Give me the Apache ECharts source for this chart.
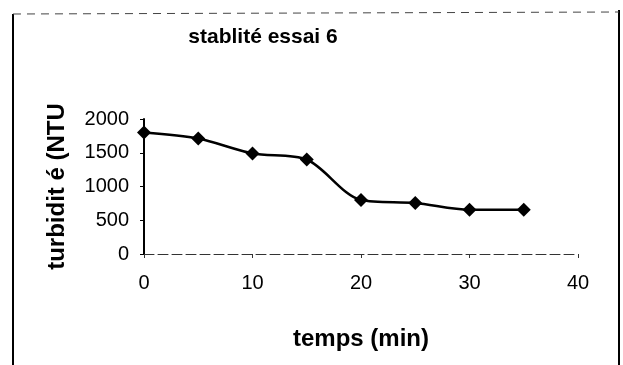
<!DOCTYPE html>
<html>
<head>
<meta charset="utf-8">
<script src="https://cdn.jsdelivr.net/npm/echarts@6/dist/echarts.min.js"></script>
<style>html,body{margin:0;padding:0;background:#fff;}#c{width:623px;height:365px;}</style>
</head>
<body>
<div id="c"></div>
<script>
var titleText = 'stablité essai 6';
var xName = 'temps (min)';
var yName = 'turbidit é (NTU';
var times = [0, 5, 10, 15, 20, 25, 30, 35];
var turbidity = [1800, 1710, 1490, 1400, 800, 755, 655, 655];

var chart = echarts.init(document.getElementById('c'));
var font = 'Liberation Sans, Arial, sans-serif';
chart.setOption({
  backgroundColor: '#fff',
  animation: false,
  title: {
    text: titleText, left: 258, top: 22, textAlign: 'center',
    textStyle: {fontFamily: font, fontSize: 21, fontWeight: 'bold', color: '#000'}
  },
  graphic: [
    {type: 'line', shape: {x1: 13, y1: 14, x2: 13, y2: 365}, style: {stroke: '#000', lineWidth: 2}},
    {type: 'line', shape: {x1: 619, y1: 10, x2: 619, y2: 365}, style: {stroke: '#000', lineWidth: 2}},
    {type: 'line', shape: {x1: 13, y1: 14, x2: 619, y2: 12}, style: {stroke: '#444', lineWidth: 1, lineDash: [8, 6]}}
  ],
  grid: {left: 144, right: 45, top: 119, bottom: 111},
  xAxis: {
    type: 'value', min: 0, max: 40, interval: 10,
    name: xName, nameLocation: 'middle', nameGap: 73,
    nameTextStyle: {fontFamily: font, fontSize: 24, fontWeight: 'bold', color: '#000'},
    axisLine: {lineStyle: {color: '#333', width: 1, type: [10, 4]}},
    axisTick: {show: true, length: 4, lineStyle: {color: '#333'}},
    axisLabel: {fontFamily: font, fontSize: 20, color: '#000', margin: 19},
    splitLine: {show: false}
  },
  yAxis: {
    type: 'value', min: 0, max: 2000, interval: 500,
    name: yName, nameLocation: 'middle', nameGap: 75, nameRotate: 90,
    nameTextStyle: {fontFamily: font, fontSize: 24, fontWeight: 'bold', color: '#000'},
    axisLine: {show: true, lineStyle: {color: '#000', width: 2}},
    axisTick: {show: true, length: 4, lineStyle: {color: '#000'}},
    axisLabel: {fontFamily: font, fontSize: 20, color: '#000', margin: 15, formatter: function (v) { return String(v); }},
    splitLine: {show: false}
  },
  series: [{
    type: 'line',
    data: times.map(function (t, i) { return [t, turbidity[i]]; }),
    smooth: 0.3,
    symbol: 'diamond', symbolSize: 14,
    lineStyle: {color: '#000', width: 2.5},
    itemStyle: {color: '#000'}
  }]
});
</script>
</body>
</html>
